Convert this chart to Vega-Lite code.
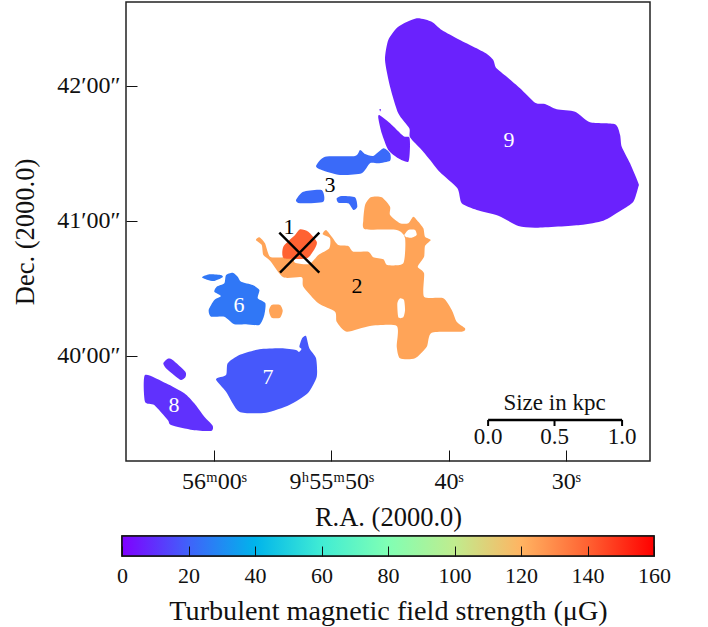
{"$schema":"https://vega.github.io/schema/vega-lite/v6.json","background":"white","padding":{"left":12,"top":1,"right":4,"bottom":2},"bounds":"flush","center":true,"spacing":75,"config":{"view":{"stroke":"#222222","strokeWidth":1.5},"axis":{"grid":false,"domain":false,"tickColor":"#111111","tickWidth":1,"tickSize":-11,"labelFont":"Liberation Serif","titleFont":"Liberation Serif","labelFontSize":22,"titleFontSize":26.5,"titleFontWeight":"normal","labelColor":"#111111","titleColor":"#111111","labelOverlap":false,"labelFlush":false},"text":{"font":"Liberation Serif"}},"datasets":{"blobs":[
{"id":"2","i":0,"ra":47.12,"dec":67.12,"B":124},{"id":"2","i":1,"ra":46.64,"dec":70.54,"B":124},{"id":"2","i":2,"ra":45.70,"dec":70.54,"B":124},{"id":"2","i":3,"ra":44.99,"dec":66.36,"B":124},{"id":"2","i":4,"ra":44.99,"dec":62.67,"B":124},{"id":"2","i":5,"ra":44.14,"dec":58.99,"B":124},{"id":"2","i":6,"ra":43.43,"dec":58.99,"B":124},{"id":"2","i":7,"ra":43.01,"dec":61.92,"B":124},{"id":"2","i":8,"ra":42.58,"dec":59.70,"B":124},{"id":"2","i":9,"ra":42.15,"dec":56.76,"B":124},{"id":"2","i":10,"ra":42.01,"dec":53.03,"B":124},{"id":"2","i":11,"ra":41.52,"dec":51.56,"B":124},{"id":"2","i":12,"ra":42.01,"dec":48.90,"B":124},{"id":"2","i":13,"ra":42.09,"dec":44.14,"B":124},{"id":"2","i":14,"ra":42.63,"dec":39.70,"B":124},{"id":"2","i":15,"ra":42.09,"dec":36.76,"B":124},{"id":"2","i":16,"ra":42.09,"dec":26.37,"B":124},{"id":"2","i":17,"ra":40.45,"dec":25.66,"B":124},{"id":"2","i":18,"ra":39.73,"dec":20.46,"B":124},{"id":"2","i":19,"ra":39.31,"dec":15.26,"B":124},{"id":"2","i":20,"ra":38.60,"dec":12.32,"B":124},{"id":"2","i":21,"ra":38.88,"dec":10.81,"B":124},{"id":"2","i":22,"ra":41.44,"dec":10.37,"B":124},{"id":"2","i":23,"ra":41.86,"dec":4.15,"B":124},{"id":"2","i":24,"ra":42.86,"dec":-1.01,"B":124},{"id":"2","i":25,"ra":44.14,"dec":-1.01,"B":124},{"id":"2","i":26,"ra":44.42,"dec":4.15,"B":124},{"id":"2","i":27,"ra":44.42,"dec":13.35,"B":124},{"id":"2","i":28,"ra":46.70,"dec":13.35,"B":124},{"id":"2","i":29,"ra":48.68,"dec":10.81,"B":124},{"id":"2","i":30,"ra":49.54,"dec":15.26,"B":124},{"id":"2","i":31,"ra":49.68,"dec":19.70,"B":124},{"id":"2","i":32,"ra":51.10,"dec":23.43,"B":124},{"id":"2","i":33,"ra":52.38,"dec":30.81,"B":124},{"id":"2","i":34,"ra":52.52,"dec":34.98,"B":124},{"id":"2","i":35,"ra":54.09,"dec":34.98,"B":124},{"id":"2","i":36,"ra":55.22,"dec":42.36,"B":124},{"id":"2","i":37,"ra":55.79,"dec":44.90,"B":124},{"id":"2","i":38,"ra":55.93,"dec":49.34,"B":124},{"id":"2","i":39,"ra":56.42,"dec":51.56,"B":124},{"id":"2","i":40,"ra":56.13,"dec":52.76,"B":124},{"id":"2","i":41,"ra":55.65,"dec":50.10,"B":124},{"id":"2","i":42,"ra":55.22,"dec":44.14,"B":124},{"id":"2","i":43,"ra":53.94,"dec":43.88,"B":124},{"id":"2","i":44,"ra":53.24,"dec":43.88,"B":124},{"id":"2","i":45,"ra":53.09,"dec":41.48,"B":124},{"id":"2","i":46,"ra":51.87,"dec":40.90,"B":124},{"id":"2","i":47,"ra":51.10,"dec":44.90,"B":124},{"id":"2","i":48,"ra":50.17,"dec":47.87,"B":124},{"id":"2","i":49,"ra":50.11,"dec":52.32,"B":124},{"id":"2","i":50,"ra":50.73,"dec":54.10,"B":124},{"id":"2","i":51,"ra":50.45,"dec":56.01,"B":124},{"id":"2","i":52,"ra":49.96,"dec":53.03,"B":124},{"id":"2","i":53,"ra":49.40,"dec":49.34,"B":124},{"id":"2","i":54,"ra":48.55,"dec":48.90,"B":124},{"id":"2","i":55,"ra":48.12,"dec":46.36,"B":124},{"id":"2","i":56,"ra":46.84,"dec":46.36,"B":124},{"id":"2","i":57,"ra":46.42,"dec":43.88,"B":124},{"id":"2","i":58,"ra":45.56,"dec":42.99,"B":124},{"id":"2","i":59,"ra":45.22,"dec":40.45,"B":124},{"id":"2","i":60,"ra":43.86,"dec":41.21,"B":124},{"id":"2","i":61,"ra":43.71,"dec":52.32,"B":124},{"id":"2","i":62,"ra":44.42,"dec":56.01,"B":124},{"id":"2","i":63,"ra":47.12,"dec":56.32,"B":124},{"id":"2","i":64,"ra":47.27,"dec":60.45,"B":124},
{"id":"2b","i":0,"ra":55.31,"dec":20.15,"B":124},{"id":"2b","i":1,"ra":55.08,"dec":22.68,"B":124},{"id":"2b","i":2,"ra":54.37,"dec":22.68,"B":124},{"id":"2b","i":3,"ra":54.14,"dec":20.15,"B":124},{"id":"2b","i":4,"ra":54.37,"dec":17.03,"B":124},{"id":"2b","i":5,"ra":55.08,"dec":17.03,"B":124},
{"id":"1","i":0,"ra":54.09,"dec":48.59,"B":140},{"id":"1","i":1,"ra":53.09,"dec":53.79,"B":140},{"id":"1","i":2,"ra":52.66,"dec":56.32,"B":140},{"id":"1","i":3,"ra":51.96,"dec":55.25,"B":140},{"id":"1","i":4,"ra":51.24,"dec":50.81,"B":140},{"id":"1","i":5,"ra":51.39,"dec":47.87,"B":140},{"id":"1","i":6,"ra":52.09,"dec":43.43,"B":140},{"id":"1","i":7,"ra":54.03,"dec":43.43,"B":140},
{"id":"9","i":0,"ra":42.72,"dec":150.09,"B":7},{"id":"9","i":1,"ra":41.44,"dec":148.58,"B":7},{"id":"9","i":2,"ra":40.58,"dec":144.89,"B":7},{"id":"9","i":3,"ra":39.03,"dec":140.44,"B":7},{"id":"9","i":4,"ra":36.90,"dec":134.80,"B":7},{"id":"9","i":5,"ra":36.19,"dec":131.56,"B":7},{"id":"9","i":6,"ra":35.96,"dec":128.13,"B":7},{"id":"9","i":7,"ra":35.04,"dec":124.13,"B":7},{"id":"9","i":8,"ra":33.91,"dec":118.98,"B":7},{"id":"9","i":9,"ra":32.63,"dec":112.58,"B":7},{"id":"9","i":10,"ra":31.78,"dec":112.0,"B":7},{"id":"9","i":11,"ra":30.78,"dec":109.65,"B":7},{"id":"9","i":12,"ra":29.22,"dec":108.58,"B":7},{"id":"9","i":13,"ra":27.94,"dec":103.87,"B":7},{"id":"9","i":14,"ra":25.81,"dec":102.98,"B":7},{"id":"9","i":15,"ra":25.38,"dec":98.22,"B":7},{"id":"9","i":16,"ra":25.24,"dec":93.03,"B":7},{"id":"9","i":17,"ra":24.53,"dec":85.65,"B":7},{"id":"9","i":18,"ra":23.82,"dec":76.76,"B":7},{"id":"9","i":19,"ra":23.82,"dec":75.25,"B":7},{"id":"9","i":20,"ra":24.25,"dec":68.58,"B":7},{"id":"9","i":21,"ra":25.24,"dec":64.9,"B":7},{"id":"9","i":22,"ra":26.81,"dec":60.14,"B":7},{"id":"9","i":23,"ra":28.79,"dec":58.23,"B":7},{"id":"9","i":24,"ra":32.49,"dec":57.03,"B":7},{"id":"9","i":25,"ra":34.05,"dec":57.79,"B":7},{"id":"9","i":26,"ra":35.76,"dec":62.36,"B":7},{"id":"9","i":27,"ra":37.60,"dec":64.9,"B":7},{"id":"9","i":28,"ra":38.88,"dec":67.87,"B":7},{"id":"9","i":29,"ra":39.25,"dec":74.54,"B":7},{"id":"9","i":30,"ra":40.73,"dec":81.65,"B":7},{"id":"9","i":31,"ra":41.58,"dec":87.12,"B":7},{"id":"9","i":32,"ra":42.29,"dec":91.56,"B":7},{"id":"9","i":33,"ra":43.29,"dec":97.2,"B":7},{"id":"9","i":34,"ra":43.35,"dec":101.2,"B":7},{"id":"9","i":35,"ra":44.29,"dec":107.87,"B":7},{"id":"9","i":36,"ra":44.99,"dec":119.69,"B":7},{"id":"9","i":37,"ra":45.42,"dec":131.56,"B":7},{"id":"9","i":38,"ra":45.14,"dec":140.44,"B":7},{"id":"9","i":39,"ra":44.29,"dec":146.35,"B":7},
{"id":"9b","i":0,"ra":45.90,"dec":107.11,"B":7},{"id":"9b","i":1,"ra":44.99,"dec":103.42,"B":7},{"id":"9b","i":2,"ra":43.86,"dec":97.78,"B":7},{"id":"9b","i":3,"ra":43.35,"dec":97.2,"B":7},{"id":"9b","i":4,"ra":43.29,"dec":93.03,"B":7},{"id":"9b","i":5,"ra":43.43,"dec":86.36,"B":7},{"id":"9b","i":6,"ra":44.29,"dec":87.87,"B":7},{"id":"9b","i":7,"ra":45.14,"dec":91.56,"B":7},{"id":"9b","i":8,"ra":45.70,"dec":98.98,"B":7},{"id":"9b","i":9,"ra":45.99,"dec":105.65,"B":7},
{"id":"9c","i":0,"ra":45.89,"dec":109.78,"B":7},{"id":"9c","i":1,"ra":45.76,"dec":109.56,"B":7},{"id":"9c","i":2,"ra":45.84,"dec":108.67,"B":7},
{"id":"3a","i":0,"ra":51.30,"dec":84.45,"B":22},{"id":"3a","i":1,"ra":50.53,"dec":88.58,"B":22},{"id":"3a","i":2,"ra":47.98,"dec":88.89,"B":22},{"id":"3a","i":3,"ra":47.55,"dec":91.56,"B":22},{"id":"3a","i":4,"ra":47.12,"dec":89.78,"B":22},{"id":"3a","i":5,"ra":46.42,"dec":88.89,"B":22},{"id":"3a","i":6,"ra":45.56,"dec":92.32,"B":22},{"id":"3a","i":7,"ra":44.99,"dec":90.09,"B":22},{"id":"3a","i":8,"ra":44.99,"dec":86.80,"B":22},{"id":"3a","i":9,"ra":45.99,"dec":85.65,"B":22},{"id":"3a","i":10,"ra":46.70,"dec":85.65,"B":22},{"id":"3a","i":11,"ra":47.41,"dec":81.21,"B":22},{"id":"3a","i":12,"ra":49.25,"dec":80.45,"B":22},{"id":"3a","i":13,"ra":50.82,"dec":82.67,"B":22},
{"id":"3b","i":0,"ra":53.01,"dec":69.34,"B":22},{"id":"3b","i":1,"ra":52.38,"dec":73.03,"B":22},{"id":"3b","i":2,"ra":50.82,"dec":73.78,"B":22},{"id":"3b","i":3,"ra":50.68,"dec":68.58,"B":22},{"id":"3b","i":4,"ra":52.66,"dec":67.87,"B":22},
{"id":"3c","i":0,"ra":49.54,"dec":70.09,"B":22},{"id":"3c","i":1,"ra":49.11,"dec":71.12,"B":22},{"id":"3c","i":2,"ra":47.98,"dec":70.54,"B":22},{"id":"3c","i":3,"ra":47.78,"dec":66.36,"B":22},{"id":"3c","i":4,"ra":48.12,"dec":64.9,"B":22},{"id":"3c","i":5,"ra":48.55,"dec":67.87,"B":22},{"id":"3c","i":6,"ra":49.40,"dec":68.14,"B":22},
{"id":"6","i":0,"ra":58.97,"dec":36.01,"B":25},{"id":"6","i":1,"ra":58.40,"dec":37.03,"B":25},{"id":"6","i":2,"ra":57.98,"dec":35.25,"B":25},{"id":"6","i":3,"ra":57.69,"dec":33.03,"B":25},{"id":"6","i":4,"ra":56.70,"dec":31.57,"B":25},{"id":"6","i":5,"ra":56.13,"dec":29.34,"B":25},{"id":"6","i":6,"ra":56.27,"dec":25.65,"B":25},{"id":"6","i":7,"ra":55.62,"dec":23.43,"B":25},{"id":"6","i":8,"ra":55.71,"dec":18.23,"B":25},{"id":"6","i":9,"ra":56.13,"dec":13.79,"B":25},{"id":"6","i":10,"ra":57.27,"dec":14.10,"B":25},{"id":"6","i":11,"ra":58.27,"dec":14.10,"B":25},{"id":"6","i":12,"ra":59.12,"dec":17.48,"B":25},{"id":"6","i":13,"ra":60.25,"dec":17.48,"B":25},{"id":"6","i":14,"ra":60.45,"dec":20.46,"B":25},{"id":"6","i":15,"ra":59.97,"dec":24.90,"B":25},{"id":"6","i":16,"ra":59.40,"dec":26.68,"B":25},{"id":"6","i":17,"ra":59.97,"dec":28.59,"B":25},{"id":"6","i":18,"ra":59.77,"dec":30.81,"B":25},{"id":"6","i":19,"ra":59.12,"dec":32.32,"B":25},
{"id":"6b","i":0,"ra":61.02,"dec":34.99,"B":25},{"id":"6b","i":1,"ra":60.40,"dec":36.32,"B":25},{"id":"6b","i":2,"ra":59.40,"dec":36.01,"B":25},{"id":"6b","i":3,"ra":59.26,"dec":34.99,"B":25},{"id":"6b","i":4,"ra":59.97,"dec":33.34,"B":25},{"id":"6b","i":5,"ra":60.53,"dec":33.79,"B":25},
{"id":"7","i":0,"ra":59.83,"dec":-10.34,"B":18},{"id":"7","i":1,"ra":58.97,"dec":-8.43,"B":18},{"id":"7","i":2,"ra":58.83,"dec":-3.23,"B":18},{"id":"7","i":3,"ra":57.84,"dec":0.46,"B":18},{"id":"7","i":4,"ra":56.13,"dec":2.99,"B":18},{"id":"7","i":5,"ra":54.28,"dec":3.44,"B":18},{"id":"7","i":6,"ra":53.01,"dec":2.68,"B":18},{"id":"7","i":7,"ra":52.75,"dec":1.79,"B":18},{"id":"7","i":8,"ra":52.54,"dec":3.12,"B":18},{"id":"7","i":9,"ra":52.72,"dec":4.15,"B":18},{"id":"7","i":10,"ra":52.49,"dec":7.88,"B":18},{"id":"7","i":11,"ra":52.15,"dec":8.90,"B":18},{"id":"7","i":12,"ra":51.87,"dec":3.44,"B":18},{"id":"7","i":13,"ra":51.30,"dec":-1.01,"B":18},{"id":"7","i":14,"ra":51.24,"dec":-9.19,"B":18},{"id":"7","i":15,"ra":52.01,"dec":-16.56,"B":18},{"id":"7","i":16,"ra":53.58,"dec":-21.76,"B":18},{"id":"7","i":17,"ra":55.56,"dec":-25.18,"B":18},{"id":"7","i":18,"ra":57.84,"dec":-24.74,"B":18},{"id":"7","i":19,"ra":58.97,"dec":-15.85,"B":18},
{"id":"8","i":0,"ra":65.88,"dec":-8.43,"B":10},{"id":"8","i":1,"ra":64.09,"dec":-12.12,"B":10},{"id":"8","i":2,"ra":62.53,"dec":-16.56,"B":10},{"id":"8","i":3,"ra":61.68,"dec":-21.01,"B":10},{"id":"8","i":4,"ra":60.82,"dec":-26.96,"B":10},{"id":"8","i":5,"ra":60.11,"dec":-30.96,"B":10},{"id":"8","i":6,"ra":60.25,"dec":-33.32,"B":10},{"id":"8","i":7,"ra":61.81,"dec":-32.87,"B":10},{"id":"8","i":8,"ra":63.66,"dec":-30.65,"B":10},{"id":"8","i":9,"ra":63.94,"dec":-28.43,"B":10},{"id":"8","i":10,"ra":65.09,"dec":-21.76,"B":10},{"id":"8","i":11,"ra":65.88,"dec":-20.29,"B":10},
{"id":"8b","i":0,"ra":64.32,"dec":-3.23,"B":10},{"id":"8b","i":1,"ra":63.94,"dec":-1.19,"B":10},{"id":"8b","i":2,"ra":63.52,"dec":-1.76,"B":10},{"id":"8b","i":3,"ra":62.44,"dec":-6.96,"B":10},{"id":"8b","i":4,"ra":62.44,"dec":-9.45,"B":10},{"id":"8b","i":5,"ra":62.81,"dec":-10.65,"B":10},{"id":"8b","i":6,"ra":63.24,"dec":-9.19,"B":10},{"id":"8b","i":7,"ra":64.09,"dec":-5.45,"B":10}
],"holes":[
{"id":"A","i":0,"ra":43.77,"dec":53.79},{"id":"A","i":1,"ra":43.43,"dec":56.01},{"id":"A","i":2,"ra":42.86,"dec":56.01},{"id":"A","i":3,"ra":42.72,"dec":53.79},{"id":"A","i":4,"ra":43.14,"dec":52.58},{"id":"A","i":5,"ra":43.57,"dec":52.76},
{"id":"B","i":0,"ra":44.37,"dec":23.43},{"id":"B","i":1,"ra":44.14,"dec":25.66},{"id":"B","i":2,"ra":43.80,"dec":24.90},{"id":"B","i":3,"ra":43.71,"dec":20.46},{"id":"B","i":4,"ra":43.86,"dec":17.21},{"id":"B","i":5,"ra":44.28,"dec":17.21}
]},
"vconcat":[
{"width":524,"height":459,
"encoding":{
"x":{"field":"ra","type":"quantitative","scale":{"domain":[67.5,22.83],"nice":false,"zero":false},"axis":{"values":[60,50,40,30],"title":"R.A. (2000.0)","labelExpr":"datum.value==60?'56ᵐ00ˢ':datum.value==50?'9ʰ55ᵐ50ˢ':datum.value==40?'40ˢ':'30ˢ'","labelFontSize":24,"labelPadding":19,"titlePadding":11}},
"y":{"field":"dec","type":"quantitative","scale":{"domain":[-46.67,157.33],"nice":false,"zero":false},"axis":{"values":[0,60,120],"title":"Dec. (2000.0)","labelExpr":"datum.value==120?'42′00″':datum.value==60?'41′00″':'40′00″'","labelFontSize":24,"labelPadding":17,"titlePadding":17}}},
"layer":[
{"data":{"name":"blobs"},"mark":{"type":"line","strokeWidth":0,"interpolate":"cardinal-closed","tension":0.35},"encoding":{"detail":{"field":"id"},"order":{"field":"i","type":"quantitative"},"fill":{"field":"B","type":"quantitative","legend":null,"scale":{"domain":[0,20,40,60,80,100,120,140,160],"range":["#8000ff","#4062fa","#00b4eb","#40ecd4","#80ffb4","#c0ec8e","#ffb462","#ff6232","#ff0000"],"interpolate":"rgb"}}}},
{"data":{"name":"holes"},"mark":{"type":"line","strokeWidth":0,"fill":"white","interpolate":"cardinal-closed","tension":0.35},"encoding":{"detail":{"field":"id"},"order":{"field":"i","type":"quantitative"}}},
{"data":{"values":[{"ra":54.43,"dec":54.79,"ra2":51.02,"dec2":37.03},{"ra":51.02,"dec":54.79,"ra2":54.37,"dec2":37.03}]},"mark":{"type":"rule","color":"black","strokeWidth":2.4},"encoding":{"x2":{"field":"ra2"},"y2":{"field":"dec2"}}},
{"data":{"values":[{"ra":36.63,"dec":-28.43,"ra2":25.21,"dec2":-28.43}]},"mark":{"type":"rule","color":"black","strokeWidth":2.4},"encoding":{"x2":{"field":"ra2"},"y2":{"field":"dec2"}}},
{"data":{"values":[{"ra":36.63,"dec":-28.43,"ra2":36.63,"dec2":-31.11},{"ra":30.97,"dec":-28.43,"ra2":30.97,"dec2":-31.11},{"ra":25.21,"dec":-28.43,"ra2":25.21,"dec2":-31.11}]},"mark":{"type":"rule","color":"black","strokeWidth":2},"encoding":{"x2":{"field":"ra2"},"y2":{"field":"dec2"}}},
{"data":{"values":[{"t":"0.0","ra":36.63,"dec":-36},{"t":"0.5","ra":30.97,"dec":-36},{"t":"1.0","ra":25.21,"dec":-36},{"t":"Size in kpc","ra":30.97,"dec":-20.9}]},"mark":{"type":"text","fontSize":23,"color":"#111111"},"encoding":{"text":{"field":"t"}}},
{"data":{"values":[{"label":1,"ra":53.6,"dec":57.32},{"label":2,"ra":47.81,"dec":31.1},{"label":3,"ra":50.11,"dec":76},{"label":6,"ra":57.87,"dec":22.7},{"label":7,"ra":55.4,"dec":-9.3},{"label":8,"ra":63.4,"dec":-21.8},{"label":9,"ra":34.85,"dec":96}]},"mark":{"type":"text","fontSize":22},"encoding":{"text":{"field":"label"},"color":{"condition":{"test":"datum.label>3","value":"white"},"value":"black"}}}
]},
{"width":532,"height":20,"data":{"values":[{"from":0,"to":160}]},
"mark":{"type":"rect","stroke":"#111111","strokeWidth":1.5,"fill":{"gradient":"linear","x1":0,"y1":0,"x2":1,"y2":0,"stops":[{"offset":0,"color":"#8000ff"},{"offset":0.125,"color":"#4062fa"},{"offset":0.25,"color":"#00b4eb"},{"offset":0.375,"color":"#40ecd4"},{"offset":0.5,"color":"#80ffb4"},{"offset":0.625,"color":"#c0ec8e"},{"offset":0.75,"color":"#ffb462"},{"offset":0.875,"color":"#ff6232"},{"offset":1,"color":"#ff0000"}]}},
"encoding":{"x":{"field":"from","type":"quantitative","scale":{"domain":[0,160],"nice":false},"axis":{"values":[0,20,40,60,80,100,120,140,160],"title":"Turbulent magnetic field strength (μG)","titleFontSize":28.2,"labelPadding":19,"titlePadding":11,"tickSize":-10,"zindex":1}},"x2":{"field":"to"}}}
]}
